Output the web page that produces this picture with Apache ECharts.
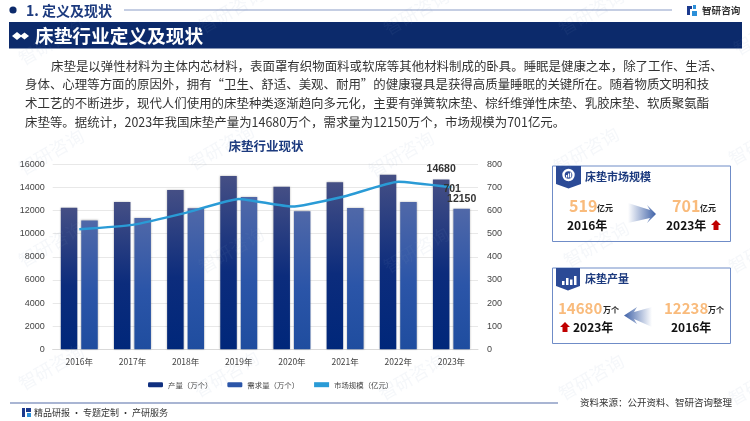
<!DOCTYPE html>
<html><head><meta charset="utf-8">
<style>html,body{margin:0;padding:0;background:#fff}#c{width:750px;height:421px}</style>
<script src="https://cdn.jsdelivr.net/npm/echarts@6/dist/echarts.min.js"></script>
</head><body><div id="c"></div>
<script>
const categories=['2016年','2017年','2018年','2019年','2020年','2021年','2022年','2023年'];
const output=[12238,12750,13780,14980,14050,14450,15100,14680];
const demand=[11150,11350,12200,13170,11950,12230,12750,12150];
const market=[519,538,590,650,617,662,725,701];
const bodyLines=[
'床垫是以弹性材料为主体内芯材料，表面罩有织物面料或软席等其他材料制成的卧具。睡眠是健康之本，除了工作、生活、',
'身体、心理等方面的原因外，拥有“卫生、舒适、美观、耐用”的健康寝具是获得高质量睡眠的关键所在。随着物质文明和技',
'术工艺的不断进步，现代人们使用的床垫种类逐渐趋向多元化，主要有弹簧软床垫、棕纤维弹性床垫、乳胶床垫、软质聚氨酯',
'床垫等。据统计，2023年我国床垫产量为14680万个，需求量为12150万个，市场规模为701亿元。'];
const watermarkSpots=[[20,60],[200,28],[385,30],[560,30],[735,50],[20,170],[190,165],[370,172],[555,168],[730,160],[20,262],[200,268],[385,268],[565,262],[730,268],[20,385],[195,392],[380,395],[560,395],[730,400]];

const CJK='"Noto Sans CJK SC","Noto Sans",sans-serif';
const LAT='"Liberation Sans",sans-serif';
const navy='#0c2a6b', title='#1c3a7e';
function T(x,y,text,size,color,weight,extra){
  return Object.assign({type:'text',x:x,y:y,z:20,silent:true,style:{text:text,fontFamily:CJK,fontSize:size,fill:color,fontWeight:weight||'normal',textVerticalAlign:'middle',textAlign:'left'}},extra||{});
}
function R(x,y,w,h,fill,extra){return Object.assign({type:'rect',z:10,silent:true,shape:{x:x,y:y,width:w,height:h},style:{fill:fill}},extra||{});}
function P(points,fill){return {type:'polygon',z:12,silent:true,shape:{points:points},style:{fill:fill}};}
function LG(a,b){return {type:'linear',x:0,y:0,x2:1,y2:0,colorStops:[{offset:0,color:a},{offset:1,color:b}]};}

const g=[];
// header
g.push({type:'circle',z:10,silent:true,shape:{cx:13,cy:10,r:3.6},style:{fill:navy}});
g.push(T(26,10.5,'1. 定义及现状',14,title,'bold'));
g.push(R(124,9.5,548,1,'#8b9dc8'));
g.push(R(687,6,5,3,'#1c3a8e'),R(687,9,3,6,'#1c3a8e'),R(692,11,5,5,'#2b8fd8'),R(693,5,3,4,'#2b8fd8'));
g.push(T(702,10,'智研咨询',9.6,'#333','bold'));
g.push(R(9,22,733,26.5,navy));
g.push(P([[12,36],[17,32],[22,36],[17,40]],'#fff'),P([[20,36],[24.5,32.5],[29,36],[24.5,39.5]],'#fff'));
g.push(T(35,35.5,'床垫行业定义及现状',18.7,'#fff','bold'));
// paragraph
const ys=[66,84.5,103,122];
bodyLines.forEach((s,i)=>g.push(T(i===0?51:25,ys[i],s,12.45,'#333')));
// card 1
g.push(R(552.5,166,178,75.5,'#fff',{style:{fill:'#fff',stroke:'#6f8cc7',lineWidth:1},z:5}));
g.push(P([[556,166],[581,166],[581,184],[568.5,188.5],[556,184]],'#2b4a96'));
g.push({type:'circle',z:13,silent:true,shape:{cx:568.5,cy:175,r:5},style:{fill:'none',stroke:'#fff',lineWidth:2.4}});
g.push(R(566,175,1.3,2.5,'#fff',{z:14}),R(568,173.5,1.3,4,'#fff',{z:14}),R(570,172.5,1.3,5,'#fff',{z:14}));
g.push(T(585,177,'床垫市场规模',11,title,'bold'));
g.push(T(569,206,'519',16,'#f9bb7c','bold'),T(597,208,'亿元',8,'#222','bold'));
g.push(T(567,225,'2016年',12,'#111','bold'));
g.push(T(672,206,'701',16,'#f9bb7c','bold'),T(700,208,'亿元',8,'#222','bold'));
g.push(T(666,225,'2023年',12,'#111','bold'));
g.push(P([[711,225],[716,220],[721,225],[718.5,225],[718.5,230],[713.5,230],[713.5,225]],'#c00000'));
g.push(P([[628,203],[650,210],[647,205],[656,214],[647,223],[650,218],[628,223]],LG('#ffffff','#3f62a8')));
// card 2
g.push(R(552.5,268,178,75.5,'#fff',{style:{fill:'#fff',stroke:'#6f8cc7',lineWidth:1},z:5}));
g.push(P([[556,268],[580,268],[580,286],[568,290.5],[556,286]],'#2b4a96'));
g.push(R(562,281,2.5,4,'#fff',{z:13}),R(566,278,2.5,7,'#fff',{z:13}),R(570,279.5,2.5,5.5,'#fff',{z:13}),R(574,276,2.5,9,'#fff',{z:13}));
g.push(T(585,279,'床垫产量',11,title,'bold'));
g.push(T(558,308,'14680',15,'#f9bb7c','bold'),T(603,310,'万个',8,'#222','bold'));
g.push(T(573,327,'2023年',12,'#111','bold'));
g.push(P([[560,327],[565,322],[570,327],[567.5,327],[567.5,332],[562.5,332],[562.5,327]],'#c00000'));
g.push(T(664,308,'12238',15,'#f9bb7c','bold'),T(708,310,'万个',8,'#222','bold'));
g.push(T(671,327,'2016年',12,'#111','bold'));
g.push(P([[652,307],[634,312],[637,307],[624,315.5],[637,324],[634,319],[652,327]],LG('#3f62a8','#ffffff')));
// footer
g.push(R(10,402,548,2,'#a9b5d3'));
g.push(R(22,408,3,9,'#1c3a8e'),R(26,408,5,4,'#1c3a8e'),R(27,413,4,4,'#2b8fd8'));
g.push(T(34,413,'精品研报 · 专题定制 · 产研服务',9,'#333'));
g.push(T(580,402,'资料来源：公开资料、智研咨询整理',9.5,'#333'));
// watermark
watermarkSpots.forEach(p=>{
  g.push({type:'text',x:p[0],y:p[1],rotation:Math.PI/6,z:30,silent:true,style:{text:'智研咨询',fontFamily:CJK,fontSize:18,fill:'rgba(130,150,185,0.08)',textAlign:'left',textVerticalAlign:'middle'}});
});

const barGrad=(a,b,c)=>({type:'linear',x:0,y:0,x2:0,y2:1,colorStops:[{offset:0,color:a},{offset:.55,color:b},{offset:1,color:c}]});
const lastOnly=arr=>p=>p.dataIndex===arr.length-1?String(p.value):'';
const lab={show:true,fontFamily:LAT,fontSize:10.5,fontWeight:'bold',color:'#333'};
const plain=v=>String(v);
const chart=echarts.init(document.getElementById('c'),null,{renderer:'canvas'});
chart.setOption({
  animation:false,
  title:{text:'床垫行业现状',left:261,top:134.5,textAlign:'center',textStyle:{fontFamily:CJK,fontSize:12.5,fontWeight:'bold',color:title}},
  grid:{left:52.7,right:272,top:164.3,bottom:71.7},
  legend:{top:376,left:143,itemWidth:15,itemHeight:5,itemGap:15,textStyle:{fontFamily:CJK,fontSize:7.4,color:'#444'},
    data:[{name:'产量（万个）',itemStyle:{color:'#0f2f7f'}},{name:'需求量（万个）',itemStyle:{color:'#2b55a8'}},{name:'市场规模（亿元）',icon:'rect',itemStyle:{color:'#2a9bd6'}}]},
  xAxis:{type:'category',data:categories,axisTick:{show:false},axisLine:{lineStyle:{color:'#d9d9d9'}},
    axisLabel:{fontFamily:CJK,fontSize:8.5,color:'#444',margin:8}},
  yAxis:[
    {type:'value',min:0,max:16000,interval:2000,axisLine:{show:false},axisTick:{show:false},splitLine:{lineStyle:{color:'#e8e8e8'}},
     axisLabel:{fontFamily:LAT,fontSize:9,color:'#444',margin:8,formatter:plain}},
    {type:'value',min:0,max:800,interval:100,axisLine:{show:false},axisTick:{show:false},splitLine:{show:false},
     axisLabel:{fontFamily:LAT,fontSize:9,color:'#444',margin:9,formatter:plain}}
  ],
  series:[
    {name:'产量（万个）',type:'bar',data:output,barWidth:16.5,barGap:'24%',
     itemStyle:{color:barGrad('#454f85','#0c2c7c','#00277a'),shadowBlur:2,shadowColor:'rgba(0,0,0,.3)'},
     label:Object.assign({},lab,{position:'top',distance:5,formatter:lastOnly(output)})},
    {name:'需求量（万个）',type:'bar',data:demand,barWidth:16.5,
     itemStyle:{color:barGrad('#5068a8','#2b55a8','#1f4d9f'),shadowBlur:2,shadowColor:'rgba(0,0,0,.3)'},
     label:Object.assign({},lab,{position:'top',distance:4,formatter:lastOnly(demand)})},
    {name:'市场规模（亿元）',type:'line',yAxisIndex:1,data:market,showSymbol:false,symbol:'none',smooth:.15,z:5,
     lineStyle:{color:'#2a9bd6',width:2.5},itemStyle:{color:'#2a9bd6'},
     endLabel:{show:true,fontFamily:LAT,fontSize:10.5,fontWeight:'bold',color:'#333',offset:[-16,1.5],formatter:p=>String(p.value)}}
  ],
  graphic:{elements:g}
});
</script></body></html>
